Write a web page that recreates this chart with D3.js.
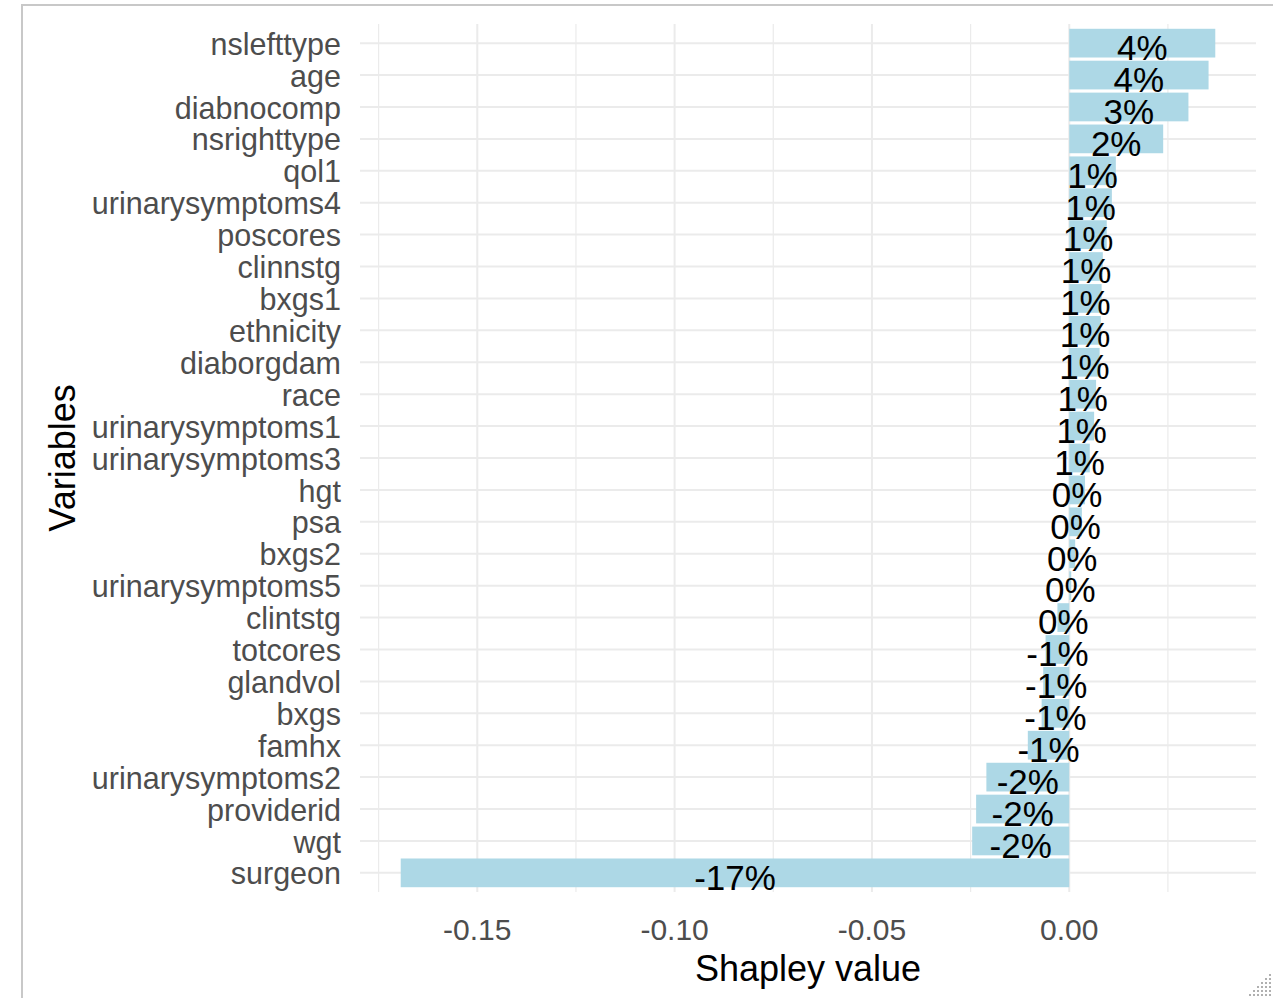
<!DOCTYPE html>
<html>
<head>
<meta charset="utf-8">
<script src="https://cdn.jsdelivr.net/npm/d3@7"></script>
<style>
  html, body { margin: 0; padding: 0; background: #fff; }
  svg { display: block; font-family: "Liberation Sans", Arial, sans-serif; }
</style>
</head>
<body>
<div id="chart"></div>
<script>
// variables, top to bottom
const variables = [
  "nslefttype", "age", "diabnocomp", "nsrighttype", "qol1", "urinarysymptoms4",
  "poscores", "clinnstg", "bxgs1", "ethnicity", "diaborgdam", "race",
  "urinarysymptoms1", "urinarysymptoms3", "hgt", "psa", "bxgs2", "urinarysymptoms5",
  "clintstg", "totcores", "glandvol", "bxgs", "famhx", "urinarysymptoms2",
  "providerid", "wgt", "surgeon"
];

// mean shapley value per variable
const shapley = [
  0.0370, 0.0353, 0.0302, 0.0238, 0.0118, 0.0108,
  0.0095, 0.0085, 0.0082, 0.0080, 0.0077, 0.0068,
  0.0063, 0.0052, 0.0040, 0.0032, 0.0015, 0.0005,
  -0.0030, -0.0060, -0.0066, -0.0070, -0.0105, -0.0210,
  -0.0236, -0.0246, -0.1694
];

const xTicks = [-0.15, -0.10, -0.05, 0.00];

const data = variables.map((v, i) => ({ name: v, value: shapley[i] }));

const width = 1273, height = 998;
const panel = { left: 360, right: 1256, top: 24, bottom: 892 };

const loc = d3.formatLocale({ decimal: ".", thousands: ",", grouping: [3], currency: ["$", ""], minus: "-" });
const pct = loc.format(".0%");
const tickFmt = loc.format(".2f");

const svg = d3.select("#chart")
  .append("svg")
  .attr("width", width)
  .attr("height", height);

// viewer frame
svg.append("line")
  .attr("x1", 21).attr("x2", width).attr("y1", 5).attr("y2", 5)
  .attr("stroke", "#c8c8c8").attr("stroke-width", 2);
svg.append("line")
  .attr("x1", 22).attr("x2", 22).attr("y1", 5).attr("y2", height)
  .attr("stroke", "#c8c8c8").attr("stroke-width", 2);

// x scale with 5% expansion like ggplot
const ext = d3.extent(shapley);
const pad = (ext[1] - ext[0]) * 0.05;
const x = d3.scaleLinear()
  .domain([ext[0] - pad, ext[1] + pad])
  .range([panel.left, panel.right]);

const y = d3.scaleBand()
  .domain(variables)
  .range([panel.top, panel.bottom])
  .paddingInner(0.1)
  .paddingOuter(0.15);

const grid = svg.append("g");

// minor vertical grid
const minor = xTicks.map(t => t - 0.025).concat([xTicks[xTicks.length - 1] + 0.025]);
grid.selectAll(".minor")
  .data(minor)
  .enter()
  .append("line")
  .attr("x1", d => x(d)).attr("x2", d => x(d))
  .attr("y1", panel.top).attr("y2", panel.bottom)
  .attr("stroke", "#ebebeb").attr("stroke-width", 1.2);

// major vertical grid
grid.selectAll(".major")
  .data(xTicks)
  .enter()
  .append("line")
  .attr("x1", d => x(d)).attr("x2", d => x(d))
  .attr("y1", panel.top).attr("y2", panel.bottom)
  .attr("stroke", "#ebebeb").attr("stroke-width", 2);

// horizontal grid
grid.selectAll(".hgrid")
  .data(variables)
  .enter()
  .append("line")
  .attr("x1", panel.left).attr("x2", panel.right)
  .attr("y1", d => y(d) + y.bandwidth() / 2)
  .attr("y2", d => y(d) + y.bandwidth() / 2)
  .attr("stroke", "#ebebeb").attr("stroke-width", 2);

// bars
svg.selectAll(".bar")
  .data(data)
  .enter()
  .append("rect")
  .attr("x", d => x(Math.min(0, d.value)))
  .attr("y", d => y(d.name))
  .attr("width", d => Math.abs(x(d.value) - x(0)))
  .attr("height", y.bandwidth())
  .attr("fill", "#add8e6");

// percent labels at the middle of each bar
svg.selectAll(".lbl")
  .data(data)
  .enter()
  .append("text")
  .attr("x", d => x(d.value / 2))
  .attr("y", d => y(d.name) + y.bandwidth() / 2)
  .attr("dy", "0.48em")
  .attr("text-anchor", "middle")
  .attr("font-size", 35)
  .attr("fill", "#000")
  .text(d => pct(d.value));

// y axis labels
svg.append("g")
  .selectAll("text")
  .data(variables)
  .enter()
  .append("text")
  .attr("x", 341)
  .attr("y", d => y(d) + y.bandwidth() / 2)
  .attr("dy", "0.38em")
  .attr("text-anchor", "end")
  .attr("font-size", 30.5)
  .attr("fill", "#4d4d4d")
  .text(d => d);

// x axis labels
svg.append("g")
  .selectAll("text")
  .data(xTicks)
  .enter()
  .append("text")
  .attr("x", d => x(d))
  .attr("y", 940)
  .attr("text-anchor", "middle")
  .attr("font-size", 30)
  .attr("fill", "#4d4d4d")
  .text(d => tickFmt(d));

// axis titles
svg.append("text")
  .attr("x", (panel.left + panel.right) / 2)
  .attr("y", 981)
  .attr("text-anchor", "middle")
  .attr("font-size", 36)
  .attr("fill", "#000")
  .text("Shapley value");

svg.append("text")
  .attr("transform", `translate(75,${(panel.top + panel.bottom) / 2}) rotate(-90)`)
  .attr("text-anchor", "middle")
  .attr("font-size", 36)
  .attr("fill", "#000")
  .text("Variables");

// resize grip in the corner
const grip = svg.append("g").attr("fill", "#b0b0b0");
for (let r = 0; r < 6; r++) {
  for (let c = 0; c <= r; c++) {
    grip.append("rect")
      .attr("x", width - 4 - c * 4)
      .attr("y", height - 4 - (r - c) * 4)
      .attr("width", 2).attr("height", 2);
  }
}
</script>
</body>
</html>
